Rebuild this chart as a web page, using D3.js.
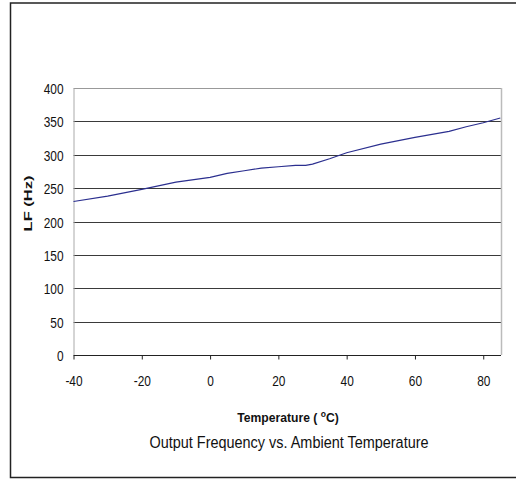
<!DOCTYPE html>
<html><head><meta charset="utf-8">
<script src="https://cdn.jsdelivr.net/npm/d3@7"></script>
<style>
html,body{margin:0;padding:0;background:#fff;}
svg text{font-family:"Liberation Sans",Arial,sans-serif;fill:#111;}
</style></head>
<body>
<svg id="chart" width="516" height="480"></svg>
<script>
const temperatures = [-40,-30,-20,-10,0,5,10,15,20,25,28,30,35,40,50,60,70,75,80,85];
const frequencies  = [230,238,248,259,266,272,276,280,282,284,284,286,294,303,316,326,335,342,348,355];
const xTicks = [-40,-20,0,20,40,60,80];
const yTicks = [0,50,100,150,200,250,300,350,400];
const yTitle = "LF (Hz)";
const caption = "Output Frequency vs. Ambient Temperature";

const FONT = "'Liberation Sans',Arial,sans-serif";
const SX = 0.85;
const svg = d3.select("#chart");
const L = 73.5, R = 501, T = 88, B = 355;
const x = d3.scaleLinear().domain([-40, 85.2]).range([L, R]);
const y = d3.scaleLinear().domain([0, 400]).range([B, T]);

// outer frame (right edge lies beyond the visible area)
svg.append("rect").attr("x",10.5).attr("y",3).attr("width",520).attr("height",474.5)
  .attr("fill","none").attr("stroke","#222").attr("stroke-width",1.5);

// gridlines
svg.append("g").selectAll("line").data(yTicks.filter(d=>d>0 && d<400)).join("line")
  .attr("x1",L).attr("x2",R).attr("y1",d=>Math.round(y(d))+0.5).attr("y2",d=>Math.round(y(d))+0.5)
  .attr("stroke","#3a3a3a").attr("stroke-width",1);
// top and right borders
svg.append("line").attr("x1",L).attr("x2",R).attr("y1",T+0.5).attr("y2",T+0.5).attr("stroke","#999");
svg.append("line").attr("x1",R+0.5).attr("x2",R+0.5).attr("y1",T).attr("y2",B).attr("stroke","#bbb").attr("stroke-width",1.5);

// y axis
const yAxis = svg.append("g").attr("transform",`translate(${L},0)`)
  .call(d3.axisLeft(y).tickValues(yTicks).tickSize(0).tickPadding(10).tickFormat(d=>String(d)));
yAxis.select(".domain").attr("stroke","#aaa");
yAxis.selectAll("text").attr("font-size","14px").attr("font-family",FONT).attr("fill","#111")
  .attr("x",-10/SX).attr("dy","0.4em").attr("transform",`scale(${SX},1)`);

// x axis
const xAxis = svg.append("g").attr("transform",`translate(0,${Math.round(B)+0.5})`)
  .call(d3.axisBottom(x).tickValues(xTicks).tickSize(4).tickPadding(17).tickFormat(d=>String(d)));
xAxis.select(".domain").attr("d",`M${L},0H${R}`).attr("stroke","#222");
xAxis.selectAll(".tick line").attr("stroke","#222");
xAxis.selectAll("text").attr("font-size","14px").attr("font-family",FONT).attr("fill","#111")
  .attr("transform",`scale(${SX},1)`);

// data line
svg.append("path").datum(temperatures.map((t,i)=>[t,frequencies[i]]))
  .attr("fill","none").attr("stroke","#2b2f8f").attr("stroke-width",1.2)
  .attr("d", d3.line().x(d=>x(d[0])).y(d=>y(d[1])));

// axis titles
const xt = svg.append("text").attr("transform","translate(288,422) scale(0.9,1)").attr("text-anchor","middle")
  .attr("font-size","13.5px").attr("font-weight","bold");
xt.append("tspan").text("Temperature ( ");
xt.append("tspan").text("o").attr("font-size","9.5px").attr("dy",-5);
xt.append("tspan").text("C)").attr("dy",5);

svg.append("text").attr("transform","translate(31.5,203.5) rotate(-90) scale(1.5,1)").attr("text-anchor","middle")
  .attr("font-size","11px").attr("font-weight","bold").text(yTitle);

svg.append("text").attr("transform","translate(289,448) scale(0.85,1)").attr("text-anchor","middle")
  .attr("font-size","17px").text(caption);
</script>
</body></html>
